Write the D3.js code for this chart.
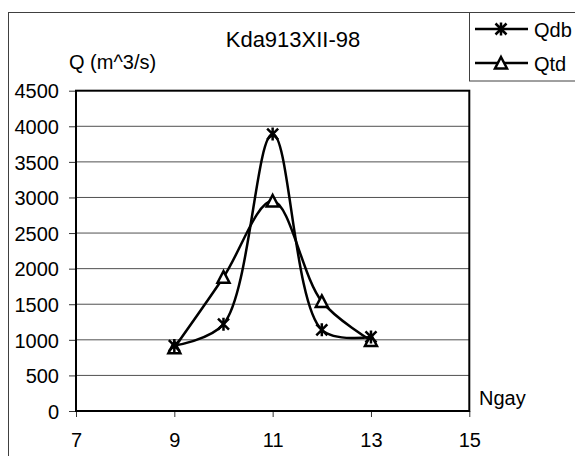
<!DOCTYPE html>
<html>
<head>
<meta charset="utf-8">
<script src="https://cdn.jsdelivr.net/npm/d3@7.9.0/dist/d3.min.js"></script>
<style>
  body { margin: 0; background: #fff; }
  svg { display: block; font-family: "Liberation Sans", Arial, sans-serif; }
  .tick text { font-size: 20px; fill: #000; }
  .tick line { stroke: #333; }
</style>
</head>
<body>
<svg id="chart" width="575" height="456"></svg>
<script>
// data
const days = [9, 10, 11, 12, 13];
const qdb = [920, 1220, 3890, 1140, 1040];
const qtd = [890, 1880, 2950, 1540, 990];
const xTicks = [7, 9, 11, 13, 15];
const yTicks = [0, 500, 1000, 1500, 2000, 2500, 3000, 3500, 4000, 4500];
const seriesNames = ['Qdb', 'Qtd'];

const svg = d3.select('#chart');

const plot = { left: 76, right: 469.3, top: 90.7, bottom: 411 };

const x = d3.scaleLinear().domain([7, 15]).range([plot.left, plot.right]);
const y = d3.scaleLinear().domain([0, 4500]).range([plot.bottom, plot.top]);

// outer chart border
svg.append('rect')
  .attr('x', 8.5).attr('y', 12.5)
  .attr('width', 600).attr('height', 470)
  .attr('fill', '#fff')
  .attr('stroke', '#404040')
  .attr('stroke-width', 1);

// gridlines
svg.append('g')
  .selectAll('line')
  .data(yTicks.filter((d) => d > 0 && d < 4500))
  .join('line')
  .attr('x1', plot.left).attr('x2', plot.right)
  .attr('y1', (d) => y(d)).attr('y2', (d) => y(d))
  .attr('stroke', '#505050')
  .attr('stroke-width', 1);

// axes
const yAxis = svg.append('g')
  .attr('transform', `translate(${plot.left},0)`)
  .call(d3.axisLeft(y).tickValues(yTicks).tickFormat(d3.format('d'))
    .tickSize(7).tickPadding(10));
yAxis.select('.domain').remove();
yAxis.selectAll('text').attr('dy', '0.36em');

const xAxis = svg.append('g')
  .attr('transform', `translate(0,${plot.bottom})`)
  .call(d3.axisBottom(x).tickValues(xTicks).tickFormat(d3.format('d'))
    .tickSize(6).tickPadding(16));
xAxis.select('.domain').remove();
xAxis.selectAll('text').attr('dy', '0.71em');

// plot frame
svg.append('rect')
  .attr('x', plot.left).attr('y', plot.top)
  .attr('width', plot.right - plot.left)
  .attr('height', plot.bottom - plot.top)
  .attr('fill', 'none')
  .attr('stroke', '#000')
  .attr('stroke-width', 2);

// lines
const line = d3.line()
  .x((d) => x(d[0]))
  .y((d) => y(d[1]))
  .curve(d3.curveCatmullRom.alpha(0.5));

const qdbPts = days.map((d, i) => [d, qdb[i]]);
const qtdPts = days.map((d, i) => [d, qtd[i]]);

[qdbPts, qtdPts].forEach((pts) => {
  svg.append('path')
    .attr('d', line(pts))
    .attr('fill', 'none')
    .attr('stroke', '#000')
    .attr('stroke-width', 2.5);
});

// markers
function star(g) {
  g.append('path')
    .attr('d', 'M-5.5,-5.5L5.5,5.5M-5.5,5.5L5.5,-5.5M0,-6.5L0,6.5')
    .attr('stroke', '#000')
    .attr('stroke-width', 2.5)
    .attr('fill', 'none');
}
function triangle(g) {
  g.append('path')
    .attr('d', 'M0,-6L6,5.5L-6,5.5Z')
    .attr('stroke', '#000')
    .attr('stroke-width', 2.5)
    .attr('fill', '#fff');
}

svg.append('g').selectAll('g')
  .data(qtdPts)
  .join('g')
  .attr('transform', (d) => `translate(${x(d[0])},${y(d[1])})`)
  .each(function () { triangle(d3.select(this)); });

svg.append('g').selectAll('g')
  .data(qdbPts)
  .join('g')
  .attr('transform', (d) => `translate(${x(d[0])},${y(d[1])})`)
  .each(function () { star(d3.select(this)); });

// titles
svg.append('text')
  .attr('x', 293).attr('y', 47)
  .attr('text-anchor', 'middle')
  .attr('font-size', 22)
  .text('Kda913XII-98');

svg.append('text')
  .attr('x', 69).attr('y', 69)
  .attr('font-size', 20)
  .text('Q (m^3/s)');

svg.append('text')
  .attr('x', 479).attr('y', 405)
  .attr('font-size', 20)
  .text('Ngay');

// legend
svg.append('rect')
  .attr('x', 469.5).attr('y', 12.5)
  .attr('width', 130).attr('height', 68.5)
  .attr('fill', '#fff')
  .attr('stroke', '#404040')
  .attr('stroke-width', 1);

const legendRows = [29, 63];
const markers = [star, triangle];
seriesNames.forEach((name, i) => {
  const g = svg.append('g').attr('transform', `translate(0,${legendRows[i]})`);
  g.append('line')
    .attr('x1', 475).attr('x2', 528)
    .attr('stroke', '#000').attr('stroke-width', 2.5);
  markers[i](g.append('g').attr('transform', 'translate(501,0)'));
  g.append('text')
    .attr('x', 534).attr('y', 7.5)
    .attr('font-size', 20)
    .text(name);
});
</script>
</body>
</html>
